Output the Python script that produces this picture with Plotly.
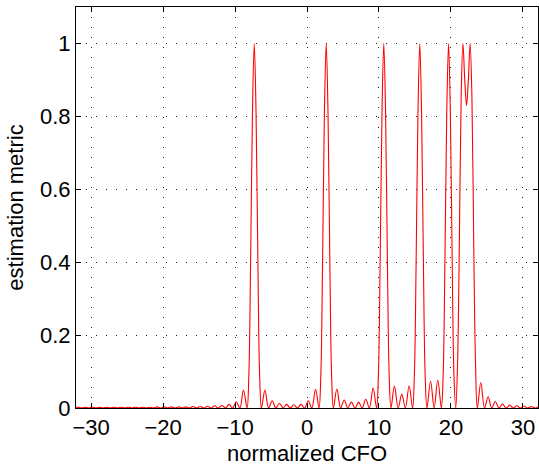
import plotly.graph_objects as go

# normalized CFO sample positions (zeros, sidelobe maxima, main-lobe samples)
cfo = [
    -32.33, -31.83, -31.33, -30.83, -30.33, -29.83, -29.33, -28.83, -28.33, -27.83,
    -27.33, -26.83, -26.33, -25.83, -25.33, -24.83, -24.33, -23.83, -23.33, -22.83,
    -22.33, -21.83, -21.33, -20.83, -20.33, -19.83, -19.33, -18.83, -18.33, -17.83,
    -17.33, -16.83, -16.33, -15.83, -15.33, -14.83, -14.33, -13.83, -13.33, -12.83,
    -12.33, -11.83, -11.33, -10.83, -10.33, -9.83, -9.33, -8.83, -8.33,
    -8.08, -7.83, -7.58, -7.33, -7.08, -6.83, -6.58, -6.33,
    -5.85, -5.33, -4.83, -4.33, -3.83, -3.33, -2.83, -2.33, -1.83, -1.33,
    -0.83, -0.33, 0.17, 0.67, 1.19, 1.67,
    1.92, 2.17, 2.42, 2.67, 2.92, 3.17, 3.42, 3.67,
    4.15, 4.67, 5.17, 5.67, 6.17, 6.67, 7.17, 7.67, 8.17, 8.67, 9.19, 9.67,
    9.92, 10.17, 10.42, 10.67, 10.92, 11.17, 11.42, 11.67,
    12.15, 12.67, 13.17, 13.67, 14.19, 14.67,
    14.92, 15.17, 15.42, 15.67, 15.92, 16.17, 16.42, 16.67,
    17.17, 17.67, 18.17, 18.67,
    18.92, 19.17, 19.42, 19.67, 19.92, 20.17, 20.42, 20.67,
    20.92, 21.17, 21.42, 21.67, 21.92, 22.17, 22.42, 22.67, 22.92, 23.17, 23.42, 23.67,
    24.15, 24.67, 25.17, 25.67, 26.17, 26.67, 27.17, 27.67, 28.17, 28.67,
    29.17, 29.67, 30.17, 30.67, 31.17, 31.67, 32.17,
]

metric = [
    0, 0.002, 0, 0.002, 0, 0.002, 0, 0.002, 0, 0.002,
    0, 0.002, 0, 0.002, 0, 0.002, 0, 0.002, 0, 0.002,
    0, 0.002, 0, 0.003, 0, 0.003, 0, 0.003, 0, 0.003,
    0, 0.003, 0, 0.004, 0, 0.004, 0, 0.005, 0, 0.006,
    0, 0.007, 0, 0.010, 0, 0.017, 0, 0.049, 0,
    0.09, 0.41, 0.81, 1.0, 0.81, 0.41, 0.09, 0,
    0.049, 0, 0.020, 0, 0.013, 0, 0.010, 0, 0.009, 0,
    0.010, 0, 0.020, 0, 0.051, 0,
    0.09, 0.41, 0.81, 1.0, 0.81, 0.41, 0.09, 0,
    0.052, 0, 0.022, 0, 0.016, 0, 0.016, 0, 0.024, 0, 0.055, 0,
    0.09, 0.41, 0.81, 1.0, 0.81, 0.41, 0.09, 0,
    0.060, 0, 0.038, 0, 0.061, 0,
    0.09, 0.41, 0.81, 1.0, 0.81, 0.41, 0.09, 0,
    0.074, 0, 0.077, 0,
    0.09, 0.41, 0.81, 1.0, 0.81, 0.41, 0.09, 0,
    0.12, 0.45, 0.85, 1.0, 0.90, 0.83, 0.90, 1.0, 0.85, 0.45, 0.12, 0,
    0.070, 0, 0.031, 0, 0.018, 0, 0.011, 0, 0.008, 0,
    0.006, 0, 0.005, 0, 0.004, 0, 0.003,
]

x_ticks = [-30, -20, -10, 0, 10, 20, 30]
y_ticks = [0, 0.2, 0.4, 0.6, 0.8, 1]
y_tick_labels = ["0", "0.2", "0.4", "0.6", "0.8", "1"]

fig = go.Figure()
fig.add_trace(go.Scatter(
    x=cfo, y=metric, mode="lines",
    line=dict(color="#ff0000", width=1.1, shape="spline", smoothing=1.0),
    showlegend=False, hoverinfo="x+y",
))

font_family = "Liberation Sans, Arial, Helvetica, sans-serif"
axis_common = dict(
    showline=True, linecolor="black", linewidth=1, mirror="ticks",
    ticks="inside", ticklen=5, tickcolor="black", tickwidth=1,
    showgrid=True, gridcolor="#222222", gridwidth=1, griddash="1px,9px",
    zeroline=False, automargin=False,
    tickfont=dict(family=font_family, size=22, color="black"),
)

fig.update_layout(
    width=539, height=466,
    margin=dict(l=76, r=1, t=7, b=58),
    paper_bgcolor="white", plot_bgcolor="white",
    font=dict(family=font_family, color="black"),
    xaxis=dict(
        range=[-32.1, 32.1], tickvals=x_ticks,
        title=dict(text="normalized CFO", font=dict(family=font_family, size=22), standoff=6),
        **axis_common,
    ),
    yaxis=dict(
        range=[0, 1.1], tickvals=y_ticks, ticktext=y_tick_labels,
        title=dict(text="estimation metric", font=dict(family=font_family, size=22), standoff=10),
        **axis_common,
    ),
)

fig.write_html(
    "out.html",
    config={"displayModeBar": False},
    post_script="document.body.style.margin='0';",
)
